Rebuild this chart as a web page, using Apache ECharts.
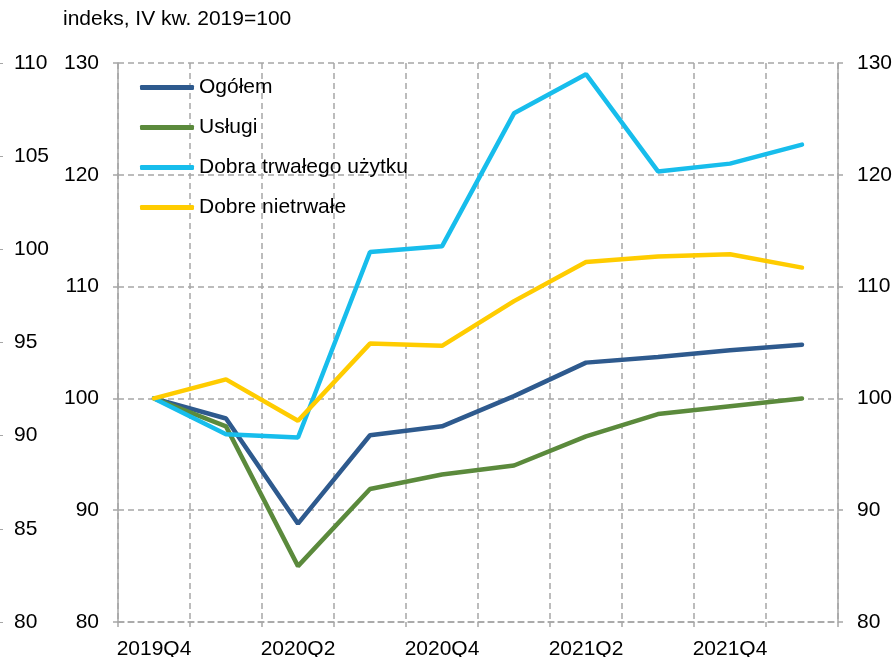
<!DOCTYPE html>
<html>
<head>
<meta charset="utf-8">
<script src="https://cdn.jsdelivr.net/npm/echarts@6/dist/echarts.min.js"></script>
<style>
  html, body { margin: 0; padding: 0; background: #fff; }
  #chart { width: 895px; height: 657px; }
</style>
</head>
<body>
<div id="chart"></div>
<script>
const quarters = ["2019Q4", "2020Q1", "2020Q2", "2020Q3", "2020Q4", "2021Q1", "2021Q2", "2021Q3", "2021Q4", "2022Q1"];

const ogolem = [100, 98.2, 88.8, 96.7, 97.5, 100.2, 103.2, 103.7, 104.3, 104.8];
const uslugi = [100, 97.5, 85.0, 91.9, 93.2, 94.0, 96.6, 98.6, 99.3, 100.0];
const dobraTrwale = [100, 96.8, 96.5, 113.1, 113.6, 125.5, 129.0, 120.3, 121.0, 122.7];
const dobreNietrwale = [100, 101.7, 98.0, 104.9, 104.7, 108.7, 112.2, 112.7, 112.9, 111.7];

const titleText = "indeks, IV kw. 2019=100";

const FONT = "Liberation Sans, Arial, sans-serif";
const FS = 21;
const GRID_COLOR = "#a6a6a6";
const TEXT_COLOR = "#000";

const chart = echarts.init(document.getElementById("chart"));

function line(name, data, color) {
  return {
    name,
    type: "line",
    data,
    yAxisIndex: 0,
    symbol: "none",
    color,
    lineStyle: { width: 4.5, color, cap: "round" },
    z: 3,
  };
}

chart.setOption({
  animation: false,
  textStyle: { fontFamily: FONT },
  title: {
    text: titleText,
    left: 58,
    top: 4,
    textStyle: { fontSize: FS, fontWeight: "normal", color: TEXT_COLOR, fontFamily: FONT },
  },
  legend: {
    orient: "vertical",
    left: 135,
    top: 72,
    icon: "roundRect",
    itemWidth: 54,
    itemHeight: 5,
    itemGap: 19,
    textStyle: { fontSize: FS, lineHeight: 21, color: TEXT_COLOR, fontFamily: FONT },
    data: ["Ogółem", "Usługi", "Dobra trwałego użytku", "Dobre nietrwałe"],
  },
  grid: { left: 118, right: 57, top: 63, bottom: 35, containLabel: false, outerBoundsMode: "none" },
  xAxis: {
    type: "category",
    data: quarters,
    boundaryGap: true,
    axisLine: { lineStyle: { color: GRID_COLOR, width: 1.5, type: [6, 4] } },
    axisTick: { show: true, length: 5, interval: 0, lineStyle: { color: GRID_COLOR, width: 1.5 } },
    axisLabel: { interval: 1, fontSize: FS, color: TEXT_COLOR, margin: 17, fontFamily: FONT },
    splitLine: { show: true, interval: 0, lineStyle: { color: GRID_COLOR, width: 1.5, type: [6, 4] } },
  },
  yAxis: [
    {
      type: "value",
      position: "left",
      min: 80,
      max: 130,
      interval: 10,
      axisLine: { show: true, lineStyle: { color: GRID_COLOR, width: 1.5 } },
      axisTick: { show: true, length: 5, lineStyle: { color: GRID_COLOR, width: 1.5 } },
      axisLabel: { fontSize: FS, color: TEXT_COLOR, margin: 19, fontFamily: FONT },
      splitLine: { show: true, lineStyle: { color: GRID_COLOR, width: 1.5, type: [6, 4] } },
    },
    {
      type: "value",
      position: "right",
      min: 80,
      max: 130,
      interval: 10,
      axisLine: { show: true, lineStyle: { color: GRID_COLOR, width: 1.5 } },
      axisTick: { show: true, length: 5, lineStyle: { color: GRID_COLOR, width: 1.5 } },
      axisLabel: { fontSize: FS, color: TEXT_COLOR, margin: 19, fontFamily: FONT },
      splitLine: { show: false },
    },
    {
      type: "value",
      position: "left",
      offset: 115,
      min: 80,
      max: 110,
      interval: 5,
      axisLine: { show: false },
      axisTick: { show: true, length: 3, lineStyle: { color: GRID_COLOR, width: 1 } },
      axisLabel: { inside: true, fontSize: FS, color: TEXT_COLOR, margin: 11, fontFamily: FONT },
      splitLine: { show: false },
    },
  ],
  series: [
    line("Ogółem", ogolem, "#2e5a8e"),
    line("Usługi", uslugi, "#5b8a3c"),
    line("Dobra trwałego użytku", dobraTrwale, "#17bdec"),
    line("Dobre nietrwałe", dobreNietrwale, "#ffcc00"),
  ],
});
</script>
</body>
</html>
